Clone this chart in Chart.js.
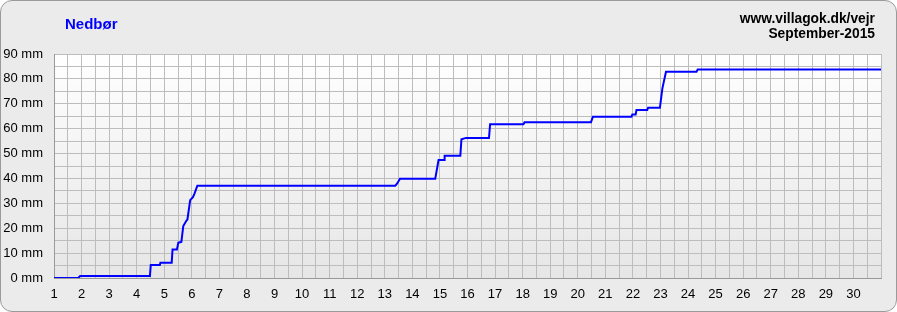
<!DOCTYPE html>
<html>
<head>
<meta charset="utf-8">
<script src="https://cdn.jsdelivr.net/npm/chart.js@4.4.1/dist/chart.umd.min.js"></script>
<style>
  html, body { margin: 0; padding: 0; background: #fff; }
  #panel {
    position: relative; width: 895px; height: 310px;
    background: #ebebeb; border: 1px solid #9a9a9a; border-radius: 12px;
    overflow: hidden;
  }
  #chart { position: absolute; left: -1px; top: -1px; }
  .hdr { position: absolute; font-family: "Liberation Sans", Arial, sans-serif; font-weight: bold; }
  #title { left: 64px; top: 14px; font-size: 15px; color: #0000ff; }
  #site { right: 21px; top: 10px; font-size: 13.8px; color: #000; text-align: right; line-height: 15px; }
</style>
</head>
<body>
<div id="panel">
  <canvas id="chart" width="897" height="312"></canvas>
  <div id="title" class="hdr">Nedbør</div>
  <div id="site" class="hdr">www.villagok.dk/vejr<br>September-2015</div>
</div>
<script>
// cumulative rain (day of month, mm)
const days = [1, 1.88, 1.95, 4.48, 4.51, 4.84, 4.86, 5.27, 5.30, 5.46, 5.51, 5.62, 5.69, 5.80, 5.84,
  5.94, 6.04, 6.10, 6.20, 13.38, 13.45, 13.55, 14.83, 14.95, 15.15, 15.17, 15.74, 15.78, 15.95,
  16.78, 16.82, 18.03, 18.07, 20.48, 20.55, 21.95, 21.98, 22.10, 22.13, 22.52, 22.55, 22.98,
  23.00, 23.07, 23.20, 24.31, 24.35, 31];
const rain = [0, 0, 0.8, 0.8, 5.2, 5.2, 6.1, 6.1, 11.5, 11.5, 14.2, 14.5, 20.9, 23.0, 23.5,
  31.3, 32.5, 34.0, 37.1, 37.1, 38.0, 39.9, 39.9, 47.4, 47.4, 49.1, 49.1, 55.7, 56.3,
  56.3, 61.8, 61.8, 62.6, 62.6, 64.8, 64.8, 65.7, 65.7, 67.5, 67.5, 68.4, 68.4,
  70.2, 76.2, 82.9, 82.9, 83.8, 83.8];
const dayLabels = ['1','2','3','4','5','6','7','8','9','10','11','12','13','14','15',
  '16','17','18','19','20','21','22','23','24','25','26','27','28','29','30'];
const mmLabels = ['0 mm','10 mm','20 mm','30 mm','40 mm','50 mm','60 mm','70 mm','80 mm','90 mm'];

const points = days.map((d, i) => ({ x: d, y: rain[i] }));

// white-to-grey fill behind the plot
const plotBg = {
  id: 'plotBg',
  beforeDraw(chart) {
    const { ctx, chartArea: { left, top, right, bottom } } = chart;
    const g = ctx.createLinearGradient(0, top, 0, bottom);
    g.addColorStop(0, '#ffffff');
    g.addColorStop(1, '#e6e6e6');
    ctx.save();
    ctx.fillStyle = g;
    ctx.fillRect(left, top, right - left, bottom - top);
    ctx.restore();
  }
};

new Chart(document.getElementById('chart'), {
  type: 'scatter',
  data: {
    datasets: [{
      data: points,
      showLine: true,
      borderColor: '#0000ff',
      borderWidth: 2,
      pointRadius: 0,
      tension: 0
    }]
  },
  plugins: [plotBg],
  options: {
    responsive: false,
    animation: false,
    layout: { padding: { top: 54, right: 16, left: 0, bottom: 0 } },
    plugins: { legend: { display: false }, tooltip: { enabled: false } },
    scales: {
      x: {
        type: 'linear', min: 1, max: 31,
        afterFit: s => { s.height = 34; },
        afterBuildTicks: s => {
          s.ticks = [];
          for (let v = 1; v <= 31; v += 0.5) s.ticks.push({ value: v });
        },
        ticks: {
          autoSkip: false, maxRotation: 0, padding: 9, color: '#000',
          font: { family: '"Liberation Sans", Arial, sans-serif', size: 13 },
          callback: v => Number.isInteger(v) && v <= 30 ? dayLabels[v - 1] : ''
        },
        grid: { color: '#bdbdbd', drawTicks: false, lineWidth: 1 },
        border: { color: '#999', width: 1 }
      },
      y: {
        min: 0, max: 90,
        afterFit: s => { s.width = 54; },
        afterBuildTicks: s => {
          s.ticks = [];
          for (let v = 0; v <= 90; v += 5) s.ticks.push({ value: v });
        },
        ticks: {
          autoSkip: false, padding: 11, color: '#000',
          font: { family: '"Liberation Sans", Arial, sans-serif', size: 13 },
          callback: v => v % 10 === 0 ? mmLabels[v / 10] : ''
        },
        grid: { color: '#bdbdbd', drawTicks: false, lineWidth: 1 },
        border: { color: '#999', width: 1 }
      }
    }
  }
});
</script>
</body>
</html>
